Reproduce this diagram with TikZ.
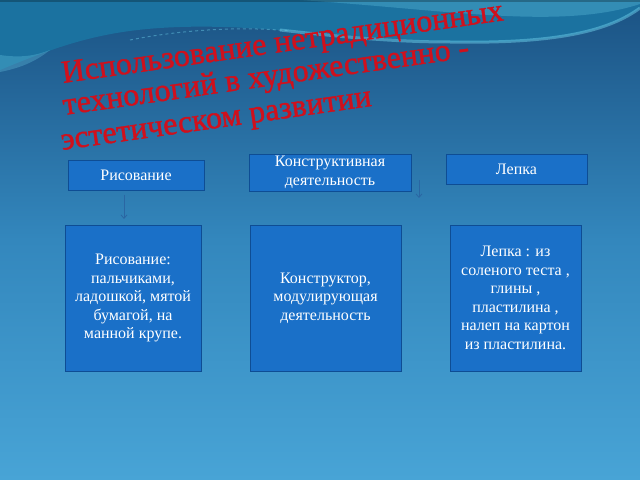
\documentclass[tikz,border=0pt]{standalone}
\usepackage{fontspec}
\setmainfont{Liberation Serif}
\newfontfamily\titlefont[FakeBold=1.2]{Liberation Serif}
\usetikzlibrary{arrows.meta}
\definecolor{bgtop}{HTML}{1B5283}
\definecolor{bgmid}{HTML}{3387BD}
\definecolor{bgbot}{HTML}{48A4D6}
\definecolor{tealtop}{HTML}{1B72A0}
\definecolor{glow}{HTML}{6CCDE8}
\definecolor{boxfill}{HTML}{1A70C8}
\definecolor{boxline}{HTML}{0E4D94}
\definecolor{titlered}{HTML}{D0101C}
\definecolor{faint}{HTML}{2A66A3}
\tikzset{
  boxnode/.style={draw=boxline, fill=boxfill, line width=0.8bp, text=white,
    font=\fontsize{16bp}{18.5bp}\selectfont, align=center, inner sep=0pt},
  titleline/.style={text=titlered, font=\titlefont\fontsize{32bp}{36bp}\selectfont,
    rotate=8.1, anchor=base west, inner sep=0pt},
  faintarrow/.style={draw=faint, line width=0.8bp, -{Straight Barb[length=3.5bp,width=6bp]}}
}
\begin{document}
\begin{tikzpicture}[x=1bp,y=-1bp]
\useasboundingbox (0,0) rectangle (640,480);
% background
\shade[top color=bgtop, bottom color=bgbot, middle color=bgmid] (0,0) rectangle (640,480);
\fill[tealtop] (0,0) -- (640,0) -- (640,8) .. controls (610,30) and (560,44) .. (450,42)
  .. controls (330,38) and (250,22) .. (160,28) .. controls (100,32) and (60,45) .. (0,70) -- cycle;
\fill[glow, opacity=0.3] (300,0) -- (640,0) -- (640,4) .. controls (560,30) and (450,10) .. (300,0) -- cycle;
\draw[glow, line width=3bp, opacity=0.5] (280,30) .. controls (350,38) and (400,42) .. (450,42)
  .. controls (560,44) and (610,30) .. (640,8);
\draw[glow, line width=1bp, opacity=0.45, dashed] (130,40) .. controls (180,30) and (240,26) .. (290,31);
\fill[glow, opacity=0.3] (0,55) .. controls (20,58) and (35,56) .. (50,50) .. controls (35,62) and (20,68) .. (0,72) -- cycle;
\fill[black, opacity=0.25] (0,0) rectangle (640,2);
% title
\node[titleline] (t1) at (63,83) {Использование нетрадиционных};
\node[titleline] (t2) at (64,115) {технологий в художественно -};
\node[titleline] (t3) at (62,150) {эстетическом развитии};
% boxes
\node[boxnode, minimum width=136bp, minimum height=30bp] (r1) at (136,175) {Рисование};
\node[boxnode, minimum width=162bp, minimum height=37bp] (k1) at (330,172.5) {Конструктивная\\деятельность};
\node[boxnode, minimum width=141bp, minimum height=30bp] (l1) at (516.5,169) {Лепка};
\node[boxnode, minimum width=136bp, minimum height=146bp] (r2) at (133,298) {Рисование:\\пальчиками,\\ладошкой, мятой\\бумагой, на\\манной крупе.};
\node[boxnode, minimum width=151bp, minimum height=146bp] (k2) at (325.5,298) {Конструктор,\\модулирующая\\деятельность};
\node[boxnode, minimum width=131bp, minimum height=146bp] (l2) at (515.5,298) {Лепка : из\\соленого теста ,\\глины ,\\пластилина ,\\налеп на картон\\из пластилина.};
% faint arrows
\coordinate (a1s) at (124,195);
\coordinate (a1e) at (124,219);
\coordinate (a2s) at (419,180);
\coordinate (a2e) at (419,198);
\draw[faintarrow] (a1s) -- (a1e);
\draw[faintarrow] (a2s) -- (a2e);
\end{tikzpicture}
\end{document}
